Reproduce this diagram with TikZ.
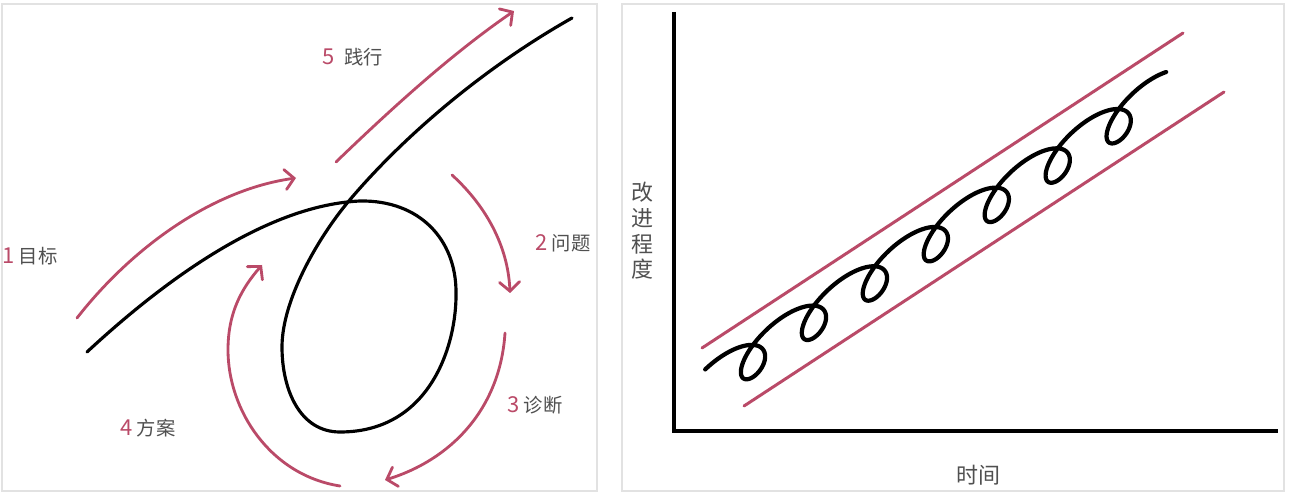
\documentclass[tikz,border=0pt]{standalone}
\usepackage{fontspec}
\setmainfont{Noto Sans CJK SC}
\usetikzlibrary{arrows.meta}
\definecolor{pinkc}{RGB}{186,74,104}
\definecolor{framec}{RGB}{226,226,226}
\definecolor{labc}{RGB}{80,80,80}
\newcommand{\numlab}[1]{\textcolor{pinkc}{\fontsize{12.5}{12}\selectfont #1}}
\begin{document}
\begin{tikzpicture}[x=0.02cm,y=-0.02cm,
  frame/.style={draw=framec,line width=0.6pt},
  blk/.style={draw=black,line width=1.8pt,line cap=round},
  spir/.style={draw=black,line width=2.4pt,line cap=round,line join=round},
  pln/.style={draw=pinkc,line width=1.7pt,line cap=round},
  parr/.style={draw=pinkc,line width=1.6pt,line cap=round,
    -{Straight Barb[length=1.8mm,width=4mm,line cap=round]}},
  lab/.style={font=\fontsize{11}{12}\selectfont,text=labc,inner sep=0pt},
  axlab/.style={font=\fontsize{12.5}{14.6}\selectfont,text=labc,inner sep=0pt,align=center}]
\useasboundingbox (0,0) rectangle (1290,496);
\fill[white] (0,0) rectangle (1290,496);
% frames
\draw[frame] (2,4) rectangle (597,491);
\draw[frame] (622,4) rectangle (1284,491);

% ---------- left panel ----------
\draw[blk] (87,352) .. controls (170,275) and (270,205) .. (360,201)
  .. controls (420,200) and (456,240) .. (456,292)
  .. controls (457,345) and (430,432) .. (340,432)
  .. controls (300,432) and (282,390) .. (282,347)
  .. controls (282,300) and (318,238) .. (348,202)
  .. controls (400,140) and (480,70) .. (572,18);

\draw[parr] (77,318) .. controls (130,250) and (210,190) .. (296,178);
\draw[parr] (336,162) .. controls (390,110) and (450,55) .. (514,11);
\draw[parr] (452,175) .. controls (485,205) and (508,245) .. (510,293);
\draw[parr] (505,333) .. controls (500,410) and (450,460) .. (385,480);
\draw[parr] (340,486) .. controls (270,475) and (228,410) .. (228,350)
  .. controls (228,312) and (242,288) .. (262,265);

\node[lab] (l1) at (30,256) {\numlab{1} 目标};
\node[lab] (l5) at (353,57) {\numlab{5}\hspace{0.5em}践行};
\node[lab] (l2) at (563,243) {\numlab{2} 问题};
\node[lab] (l3) at (535,405) {\numlab{3} 诊断};
\node[lab] (l4) at (148,428) {\numlab{4} 方案};

% ---------- right panel ----------
\draw[draw=black,line width=1.8pt] (674,12) -- (674,431) -- (1278,431);
\draw[pln] (702,348) -- (1183,33);
\draw[pln] (744,406) -- (1224,92);
\draw[spir] plot[variable=\t,domain=-3.65:41.34,samples=700,smooth]
  ({753+9.7*\t-25.5*sin(\t r)},
   {356.5-0.645*(9.7*\t-25.5*sin(\t r))+20.5*cos(\t r)});

\node[axlab] (ylab) at (642,231) {改\\进\\程\\度};
\node[axlab] (xlab) at (978,475) {时间};
\end{tikzpicture}
\end{document}
